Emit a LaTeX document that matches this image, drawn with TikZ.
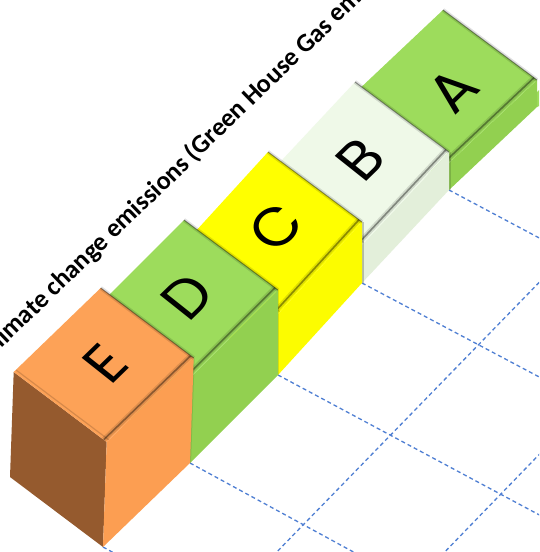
\documentclass[tikz,border=0pt]{standalone}
\usepackage{fontspec}
\newfontfamily\titlefont{Carlito}
\newfontfamily\letterfont{Poppins}
\definecolor{orTop}{HTML}{FDA257}
\definecolor{orRight}{HTML}{FC9E52}
\definecolor{orLeft}{HTML}{955A2E}
\definecolor{grTop}{HTML}{9DDC5C}
\definecolor{grRight}{HTML}{92D050}
\definecolor{yeTop}{HTML}{FFFF00}
\definecolor{yeRight}{HTML}{FCFC00}
\definecolor{ltTop}{HTML}{EFF9E8}
\definecolor{ltRight}{HTML}{E3EFDA}
\definecolor{gridblue}{HTML}{4F7FD3}
\tikzset{
  gridline/.style={gridblue, line width=1.3pt, dash pattern=on 4pt off 3pt},
  titletext/.style={font=\titlefont\bfseries\fontsize{26}{30}\selectfont, inner sep=0pt, text=black},
  lettertext/.style={font=\letterfont\fontsize{58}{64}\selectfont, inner sep=0pt, text=black, cm={0.72,0.70,-0.78,0.62,(0,0)}},
  creasedark/.style={black, opacity=.38, line width=1.6pt},
  creasesoft/.style={black, opacity=.12, line width=5pt},
  edgedark/.style={black, opacity=.4, line width=1pt},
  edgesoft/.style={black, opacity=.12, line width=4pt},
}
\newcommand\drawbar[4]{%
  \fill[#4] (#1L) -- (#1B) -- (#1P) -- (#1W) -- cycle;
  \fill[#3] (#1B) -- (#1R) -- (#1Q) -- (#1P) -- cycle;
  \fill[#2] (#1L) -- (#1T) -- (#1R) -- (#1B) -- cycle;
  \begin{scope}
    \clip (#1L) -- (#1T) -- (#1R) -- (#1B) -- cycle;
    \draw[creasesoft] ([shift={(-3,-2.3)}]#1B) -- ([shift={(-3,-2.3)}]#1R);
    \draw[creasedark] ([shift={(-3,-2.3)}]#1B) -- ([shift={(-3,-2.3)}]#1R);
    \draw[black, opacity=.15, line width=1.2pt] ([shift={(2.2,-2.1)}]#1L) -- ([shift={(2.2,-2.1)}]#1B);
  \end{scope}
  \draw[edgesoft] (#1T) -- (#1R);
  \draw[edgedark] (#1T) -- (#1R);
}
\begin{document}
\begin{tikzpicture}[x=1pt, y=-1pt]
\useasboundingbox (0,0) rectangle (539,552);
\clip (0,0) rectangle (539,552);
\fill[white] (0,0) rectangle (539,552);

% ground points
\coordinate (p0) at (103,547);
\coordinate (p1) at (190,463);
\coordinate (p2) at (278,375);
\coordinate (p3) at (362,283);
\coordinate (p4) at (449,190);
\coordinate (p5) at (537,107);

% dashed floor grid
\coordinate (g0) at (125,559);
\coordinate (g1) at (370,561);
\coordinate (g2) at (560,526);
\coordinate (g3) at (560,388);
\coordinate (g4) at (560,249);
\coordinate (m1a) at (268,561);
\coordinate (m1b) at (560,261);
\coordinate (m2a) at (436,561);
\coordinate (m2b) at (560,433);
\draw[gridline] (p0) -- (g0);
\draw[gridline] (p1) -- (g1);
\draw[gridline] (p2) -- (g2);
\draw[gridline] (p3) -- (g3);
\draw[gridline] (p4) -- (g4);
\draw[gridline] (m1a) -- (m1b);
\draw[gridline] (m2a) -- (m2b);

% sliver of a further bar at the right edge
\fill[grTop] (537,92) -- (539,90) -- (539,106) -- (537,107) -- cycle;

% bar A
\coordinate (AP) at (p4); \coordinate (AQ) at (p5);
\coordinate (AB) at (449,163); \coordinate (AR) at (537,80);
\coordinate (AT) at (443,10);  \coordinate (AL) at (355,93);
\coordinate (AW) at (355,120);
% bar B
\coordinate (BP) at (p3); \coordinate (BQ) at (p4);
\coordinate (BB) at (362,245); \coordinate (BR) at (449,152);
\coordinate (BT) at (355,82);  \coordinate (BL) at (268,175);
\coordinate (BW) at (268,213);
% bar C
\coordinate (CP) at (p2); \coordinate (CQ) at (p3);
\coordinate (CB) at (278,314); \coordinate (CR) at (362,222);
\coordinate (CT) at (268,152); \coordinate (CL) at (184,244);
\coordinate (CW) at (184,305);
% bar D
\coordinate (DP) at (p1); \coordinate (DQ) at (p2);
\coordinate (DB) at (190,378); \coordinate (DR) at (278,290);
\coordinate (DT) at (184,220); \coordinate (DL) at (96,308);
\coordinate (DW) at (96,393);
% bar E
\coordinate (EP) at (p0); \coordinate (EQ) at (p1);
\coordinate (EB) at (106.7,442); \coordinate (ER) at (193.7,358);
\coordinate (ET) at (100.7,288); \coordinate (EL) at (13.7,372);
\coordinate (EW) at (10,477);

\drawbar{A}{grTop}{grRight}{grRight}
\draw[black, opacity=.15, line width=3pt] (BR) -- (BQ);
\drawbar{B}{ltTop}{ltRight}{ltRight}
\draw[black, opacity=.22, line width=3pt] (CR) -- (CQ);
\drawbar{C}{yeTop}{yeRight}{yeRight}
\draw[black, opacity=.10, line width=2pt] (DR) -- (DQ);
\drawbar{D}{grTop}{grRight}{grRight}
\draw[black, opacity=.10, line width=2pt] (ER) -- (EQ);
\drawbar{E}{orTop}{orRight}{orLeft}

% letters on the top faces
\node[lettertext] (labA) at (453,90) {A};
\node[lettertext] (labB) at (361,160) {B};
\node[lettertext] (labC) at (276,227) {C};
\node[lettertext] (labD) at (187,297) {D};
\node[lettertext] (labE) at (105,364) {E};

% title along the row
\node[titletext, rotate=44, anchor=base west] (title) at (-8.5,358.5) {Climate change emissions (Green House Gas emissions)};
\end{tikzpicture}
\end{document}
